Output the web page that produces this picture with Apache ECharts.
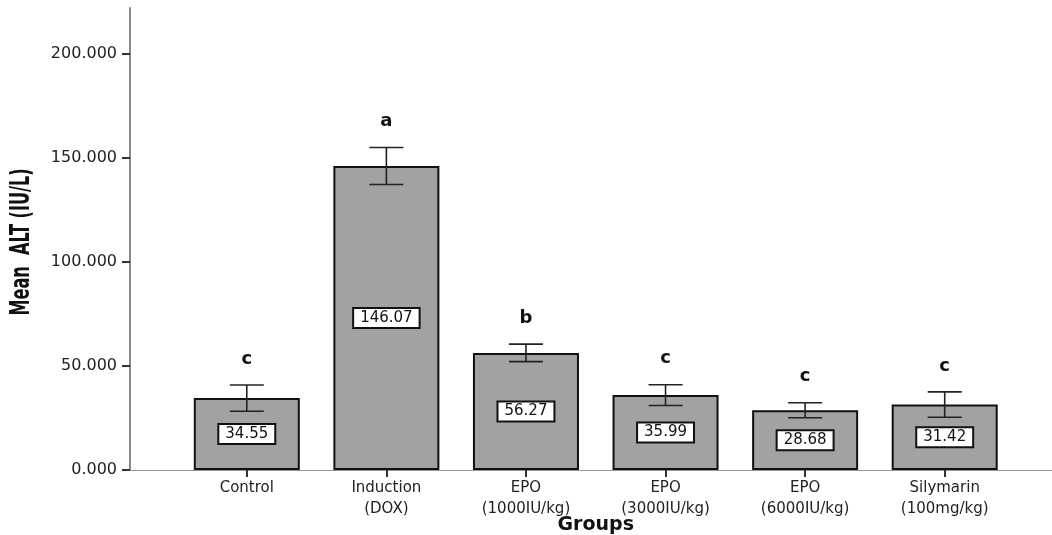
<!DOCTYPE html>
<html>
<head>
<meta charset="utf-8">
<script src="https://cdn.jsdelivr.net/npm/echarts@6/dist/echarts.min.js"></script>
<style>
html,body{margin:0;padding:0;background:#fff;}
#chart{width:1052px;height:535px;}
</style>
</head>
<body>
<div id="chart"></div>
<script>
const categories = ['Control', 'Induction\n(DOX)', 'EPO\n(1000IU/kg)', 'EPO\n(3000IU/kg)', 'EPO\n(6000IU/kg)', 'Silymarin\n(100mg/kg)'];
const means = [34.55, 146.07, 56.27, 35.99, 28.68, 31.42];
const errors = [6.3, 8.9, 4.2, 5.0, 3.6, 6.1];
const letters = ['c', 'a', 'b', 'c', 'c', 'c'];
const yTicks = [0, 50, 100, 150, 200];
const yTitle = 'Mean  ALT (IU/L)';
const xTitle = 'Groups';

const FONT = "'DejaVu Sans', Verdana, sans-serif";
const chart = echarts.init(document.getElementById('chart'), null, {renderer: 'canvas'});

const errData = means.map((m, i) => [i, m, errors[i]]);

const option = {
  backgroundColor: '#ffffff',
  animation: false,
  grid: [
    {left: 130, right: 0, top: 8, bottom: 65, outerBoundsMode: 'none', containLabel: false},
    {left: 177, right: 37.5, top: 8, bottom: 65, outerBoundsMode: 'none', containLabel: false}
  ],
  graphic: [
    {
      type: 'text', x: 22, y: 242, rotation: Math.PI / 2, scaleX: 0.69,
      style: {text: yTitle, align: 'center', verticalAlign: 'middle',
        font: "bold 26px 'DejaVu Sans Condensed', 'DejaVu Sans', sans-serif", fill: '#111'}
    }
  ],
  xAxis: [
    {
      gridIndex: 0, type: 'value', min: 0, max: 1,
      axisLine: {show: true, lineStyle: {color: '#999', width: 1}},
      axisTick: {show: false}, axisLabel: {show: false}, splitLine: {show: false}
    },
    {
      gridIndex: 1, type: 'category', data: categories,
      axisLine: {show: false},
      axisTick: {show: true, alignWithLabel: true, length: 7, lineStyle: {color: '#333', width: 2}},
      axisLabel: {color: '#222', fontFamily: FONT, fontSize: 15, lineHeight: 21, margin: 8, interval: 0},
      name: xTitle, nameLocation: 'middle', nameGap: 46, nameMoveOverlap: false,
      nameTextStyle: {fontFamily: FONT, fontWeight: 'bold', fontSize: 19, color: '#111'}
    }
  ],
  yAxis: [
    {
      gridIndex: 0, type: 'value', min: 0, max: 222, interval: 50,
      axisLine: {show: true, lineStyle: {color: '#888', width: 2}},
      axisTick: {show: true, length: 8, customValues: yTicks, lineStyle: {color: '#333', width: 2}},
      axisLabel: {customValues: yTicks, margin: 13, color: '#222', fontFamily: FONT, fontSize: 16,
        formatter: v => Number(v).toFixed(3)},
      splitLine: {show: false}
    },
    {
      gridIndex: 1, type: 'value', min: 0, max: 222, show: false
    }
  ],
  series: [
    {
      type: 'bar', xAxisIndex: 1, yAxisIndex: 1, data: means, barWidth: 106,
      itemStyle: {color: '#a2a2a2', borderColor: '#111', borderWidth: 2},
      label: {
        show: true, position: 'inside', formatter: p => p.value.toFixed(2),
        fontFamily: FONT, fontSize: 15, color: '#111',
        backgroundColor: '#fff', borderColor: '#111', borderWidth: 2, padding: [2, 6, 1, 6]
      },
      z: 2
    },
    {
      type: 'custom', xAxisIndex: 1, yAxisIndex: 1, data: errData, z: 5,
      encode: {x: 0, y: 1},
      renderItem: function (params, api) {
        const i = api.value(0), m = api.value(1), e = api.value(2);
        const top = api.coord([i, m + e]);
        const bot = api.coord([i, m - e]);
        const hw = 17;
        const st = {stroke: '#222', lineWidth: 1.6};
        return {
          type: 'group',
          children: [
            {type: 'line', shape: {x1: top[0], y1: top[1], x2: bot[0], y2: bot[1]}, style: st},
            {type: 'line', shape: {x1: top[0] - hw, y1: top[1], x2: top[0] + hw, y2: top[1]}, style: st},
            {type: 'line', shape: {x1: bot[0] - hw, y1: bot[1], x2: bot[0] + hw, y2: bot[1]}, style: st},
            {type: 'text', style: {text: letters[params.dataIndex], x: top[0], y: top[1] - 17,
              align: 'center', verticalAlign: 'bottom', font: 'bold 18px ' + FONT, fill: '#111'}}
          ]
        };
      }
    }
  ]
};
chart.setOption(option);
</script>
</body>
</html>
